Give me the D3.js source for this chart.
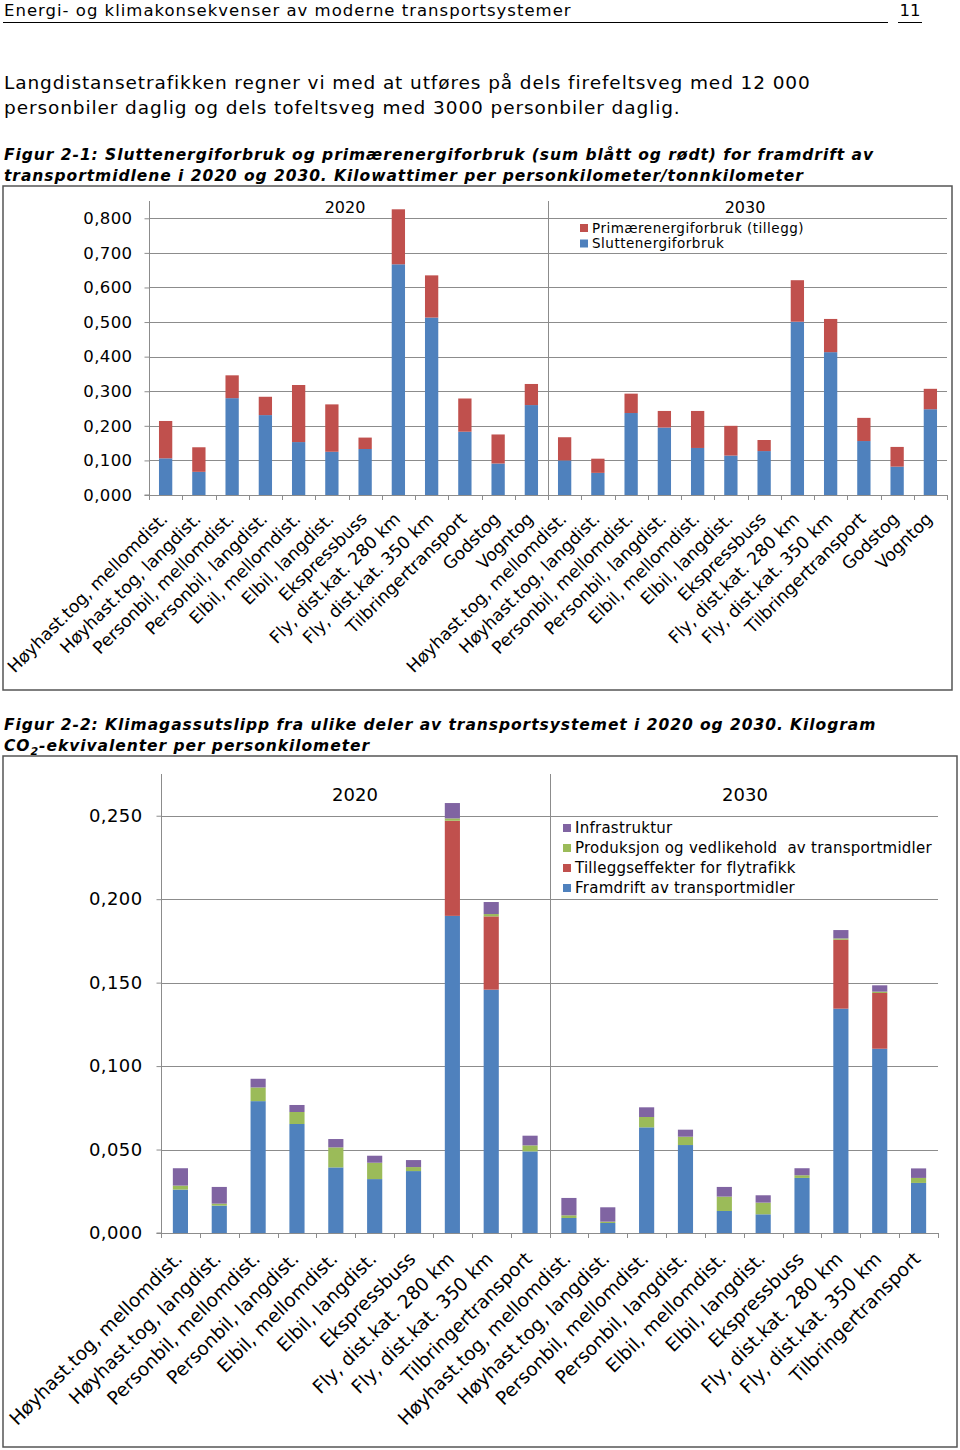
<!DOCTYPE html>
<html><head><meta charset="utf-8">
<script src="https://cdn.jsdelivr.net/npm/d3@7"></script>
<style>
body{margin:0;background:#fff}
svg{display:block}
text{font-family:"DejaVu Sans",Verdana,sans-serif;fill:#000;white-space:pre}
</style>
</head><body>
<svg id="c" width="960" height="1450"></svg>
<script>
// ---------- DATA ----------
const years = ["2020", "2030"];
const categories1 = ["Høyhast.tog, mellomdist.", "Høyhast.tog, langdist.", "Personbil, mellomdist.", "Personbil, langdist.",
  "Elbil, mellomdist.", "Elbil, langdist.", "Ekspressbuss", "Fly, dist.kat. 280 km", "Fly, dist.kat. 350 km",
  "Tilbringertransport", "Godstog", "Vogntog"];
const series1Names = ["Sluttenergiforbruk", "Primærenergiforbruk (tillegg)"];
const slutt2020 = [0.106, 0.067, 0.280, 0.231, 0.153, 0.125, 0.133, 0.667, 0.513, 0.183, 0.091, 0.260];
const prim2020  = [0.108, 0.071, 0.066, 0.053, 0.165, 0.137, 0.033, 0.159, 0.122, 0.096, 0.084, 0.061];
const slutt2030 = [0.100, 0.064, 0.237, 0.195, 0.136, 0.114, 0.127, 0.501, 0.413, 0.156, 0.082, 0.248];
const prim2030  = [0.067, 0.041, 0.056, 0.048, 0.107, 0.086, 0.032, 0.120, 0.096, 0.067, 0.057, 0.059];
const ticks1 = [0, 0.1, 0.2, 0.3, 0.4, 0.5, 0.6, 0.7, 0.8];

const categories2 = categories1.slice(0, 10);
const series2Names = ["Framdrift av transportmidler", "Tilleggseffekter for flytrafikk",
  "Produksjon og vedlikehold  av transportmidler", "Infrastruktur"];
const framdrift2020 = [0.0260, 0.0164, 0.0790, 0.0653, 0.0393, 0.0323, 0.0371, 0.1900, 0.1458, 0.0489];
const tillegg2020   = [0, 0, 0, 0, 0, 0, 0, 0.0570, 0.0439, 0];
const produksjon2020 = [0.0024, 0.0012, 0.0082, 0.0072, 0.0120, 0.0098, 0.0024, 0.0014, 0.0014, 0.0036];
const infra2020     = [0.0104, 0.0100, 0.0052, 0.0042, 0.0050, 0.0042, 0.0042, 0.0092, 0.0072, 0.0058];
const framdrift2030 = [0.0090, 0.0060, 0.0633, 0.0527, 0.0132, 0.0112, 0.0330, 0.1344, 0.1104, 0.0300];
const tillegg2030   = [0, 0, 0, 0, 0, 0, 0, 0.0413, 0.0334, 0];
const produksjon2030 = [0.0016, 0.0008, 0.0062, 0.0050, 0.0086, 0.0070, 0.0016, 0.0008, 0.0008, 0.0030];
const infra2030     = [0.0104, 0.0086, 0.0058, 0.0042, 0.0058, 0.0044, 0.0042, 0.0050, 0.0038, 0.0057];
const ticks2 = [0, 0.05, 0.10, 0.15, 0.20, 0.25];

const colors1 = ["#4F81BD", "#C0504D"];
const colors2 = ["#4F81BD", "#C0504D", "#9BBB59", "#8064A2"];

// ---------- PAGE TEXT ----------
const svg = d3.select("#c");
svg.append("rect").attr("width", 960).attr("height", 1450).attr("fill", "#fff");

svg.append("text").attr("x", 4).attr("y", 16).attr("font-size", 16.5).attr("letter-spacing", 1)
  .text("Energi- og klimakonsekvenser av moderne transportsystemer");
svg.append("line").attr("x1", 3).attr("x2", 888).attr("y1", 22.5).attr("y2", 22.5).attr("stroke", "#000");
svg.append("text").attr("x", 910).attr("y", 16).attr("font-size", 16.5).attr("text-anchor", "middle").text("11");
svg.append("line").attr("x1", 898).attr("x2", 922).attr("y1", 22.5).attr("y2", 22.5).attr("stroke", "#000");

svg.append("text").attr("x", 4).attr("y", 89).attr("font-size", 18.5).attr("letter-spacing", 0.9)
  .text("Langdistansetrafikken regner vi med at utføres på dels firefeltsveg med 12 000");
svg.append("text").attr("x", 4).attr("y", 114).attr("font-size", 18.5).attr("letter-spacing", 0.9)
  .text("personbiler daglig og dels tofeltsveg med 3000 personbiler daglig.");

function caption(lines, y0) {
  lines.forEach((l, i) => {
    const t = svg.append("text").attr("x", 4).attr("y", y0 + i * 21).attr("font-size", 15.5)
      .attr("font-weight", "bold").attr("font-style", "italic").attr("letter-spacing", 0.95);
    if (Array.isArray(l)) {
      l.forEach(p => { const ts = t.append("tspan").text(p.t); if (p.sub) ts.attr("font-size", 11).attr("dy", 4); else if (p.after) ts.attr("dy", -4); });
    } else t.text(l);
  });
}
caption(["Figur 2-1: Sluttenergiforbruk og primærenergiforbruk (sum blått og rødt) for framdrift av",
  "transportmidlene i 2020 og 2030. Kilowattimer per personkilometer/tonnkilometer"], 160);
caption(["Figur 2-2: Klimagassutslipp fra ulike deler av transportsystemet i 2020 og 2030. Kilogram",
  [{t: "CO"}, {t: "2", sub: true}, {t: "-ekvivalenter per personkilometer", after: true}]], 730);

// ---------- CHART FUNCTION ----------
const fmt = v => d3.format(".3f")(v).replace(".", ",");

function drawChart(o) {
  const g = svg.append("g");
  g.append("rect").attr("x", o.box[0]).attr("y", o.box[1]).attr("width", o.box[2] - o.box[0])
    .attr("height", o.box[3] - o.box[1]).attr("fill", "none").attr("stroke", "#555").attr("stroke-width", 1.5);

  const keys = [];
  o.years.forEach(yr => o.cats.forEach(c => keys.push(yr + "|" + c)));
  const x = d3.scaleBand().domain(keys).range([o.left, o.right]).padding(0);
  const y = d3.scaleLinear().domain([0, o.max]).range([o.bottom, o.top]);

  // gridlines
  g.selectAll(".grid").data(o.ticks.slice(1)).join("line")
    .attr("x1", o.left).attr("x2", o.right).attr("y1", d => Math.round(y(d)) + 0.5).attr("y2", d => Math.round(y(d)) + 0.5)
    .attr("stroke", "#8c8c8c").attr("stroke-width", 1);

  // rows for stacking
  const rows = keys.map((k, i) => {
    const yi = Math.floor(i / o.cats.length), ci = i % o.cats.length;
    const r = {key: k};
    o.seriesNames.forEach((s, si) => r[s] = o.values[yi][si][ci]);
    return r;
  });
  const stacked = d3.stack().keys(o.seriesNames)(rows);
  const bw = x.bandwidth() * o.barFrac;
  stacked.forEach((layer, li) => {
    g.selectAll(null).data(layer).join("rect")
      .attr("x", d => x(d.data.key) + (x.bandwidth() - bw) / 2)
      .attr("width", bw)
      .attr("y", d => y(d[1]))
      .attr("height", d => Math.max(0, y(d[0]) - y(d[1])))
      .attr("fill", o.colors[li]);
  });

  // y axis
  const ya = d3.axisLeft(y).tickValues(o.ticks).tickFormat(fmt).tickSize(5).tickPadding(o.tickPad);
  const yg = g.append("g").attr("transform", `translate(${o.left + 0.5},0)`).call(ya);
  yg.select(".domain").attr("stroke", "#8c8c8c").attr("d", `M-5,${o.bottom}H0V${o.top}`);
  yg.selectAll(".tick line").attr("stroke", "#8c8c8c");
  yg.selectAll(".tick text").attr("font-size", o.tickFont).attr("font-family", "DejaVu Sans")
    .attr("letter-spacing", 0.4).attr("fill", "#000");

  // x axis baseline + ticks
  const xa = d3.axisBottom(x).tickSize(0).tickFormat("");
  const xg = g.append("g").attr("transform", `translate(0,${o.bottom + 0.5})`).call(xa);
  xg.select(".domain").attr("stroke", "#8c8c8c").attr("d", `M${o.left},0H${o.right}`);
  xg.selectAll(".tick").remove();
  const bounds = keys.map(k => x(k)).concat([o.right]);
  g.selectAll(null).data(bounds).join("line")
    .attr("x1", d => Math.round(d) + 0.5).attr("x2", d => Math.round(d) + 0.5)
    .attr("y1", o.bottom).attr("y2", o.bottom + 5).attr("stroke", "#8c8c8c");
  // divider between years
  const div = Math.round(x(o.years[1] + "|" + o.cats[0])) + 0.5;
  g.append("line").attr("x1", div).attr("x2", div).attr("y1", o.top).attr("y2", o.bottom + 5).attr("stroke", "#8c8c8c");

  // category labels
  g.selectAll(null).data(keys).join("text")
    .attr("text-anchor", "end").attr("font-size", o.labelFont)
    .attr("transform", d => `translate(${x(d) + x.bandwidth() / 2 + o.labelDx},${o.bottom + o.labelDy}) rotate(-45)`)
    .text(d => d.split("|")[1]);

  // year headers
  o.years.forEach((yr, i) => {
    g.append("text").attr("x", o.yearX[i]).attr("y", o.yearY).attr("text-anchor", "middle")
      .attr("font-size", o.yearFont).text(yr);
  });

  // legend
  o.legend.forEach((li, i) => {
    g.append("rect").attr("x", o.legX).attr("y", o.legY + i * o.legStep - 4).attr("width", 8).attr("height", 8)
      .attr("fill", o.colors[li]);
    g.append("text").attr("x", o.legX + 12).attr("y", o.legY + i * o.legStep).attr("dy", "0.35em")
      .attr("font-size", o.legFont).attr("letter-spacing", o.legSpacing).text(o.seriesNames[li]);
  });
}

drawChart({
  box: [3, 186, 952, 690],
  years, cats: categories1, seriesNames: series1Names,
  values: [[slutt2020, prim2020], [slutt2030, prim2030]],
  colors: colors1, ticks: ticks1, max: 0.85,
  left: 149, right: 947, top: 201, bottom: 495,
  barFrac: 0.4, tickPad: 12, tickFont: 16.5,
  labelFont: 17.3, labelDx: 3, labelDy: 25,
  yearX: [345, 745], yearY: 213, yearFont: 16,
  legend: [1, 0], legX: 580, legY: 228, legStep: 15.5, legFont: 13.5, legSpacing: 0.5
});

drawChart({
  box: [3, 756, 957, 1447],
  years, cats: categories2, seriesNames: series2Names,
  values: [[framdrift2020, tillegg2020, produksjon2020, infra2020], [framdrift2030, tillegg2030, produksjon2030, infra2030]],
  colors: colors2, ticks: ticks2, max: 0.275,
  left: 161, right: 938, top: 774, bottom: 1233,
  barFrac: 0.39, tickPad: 14, tickFont: 18,
  labelFont: 18.7, labelDx: 3, labelDy: 27,
  yearX: [355, 745], yearY: 801, yearFont: 18,
  legend: [3, 2, 1, 0], legX: 563, legY: 828, legStep: 20, legFont: 15, legSpacing: 0.25
});
</script>
</body></html>
